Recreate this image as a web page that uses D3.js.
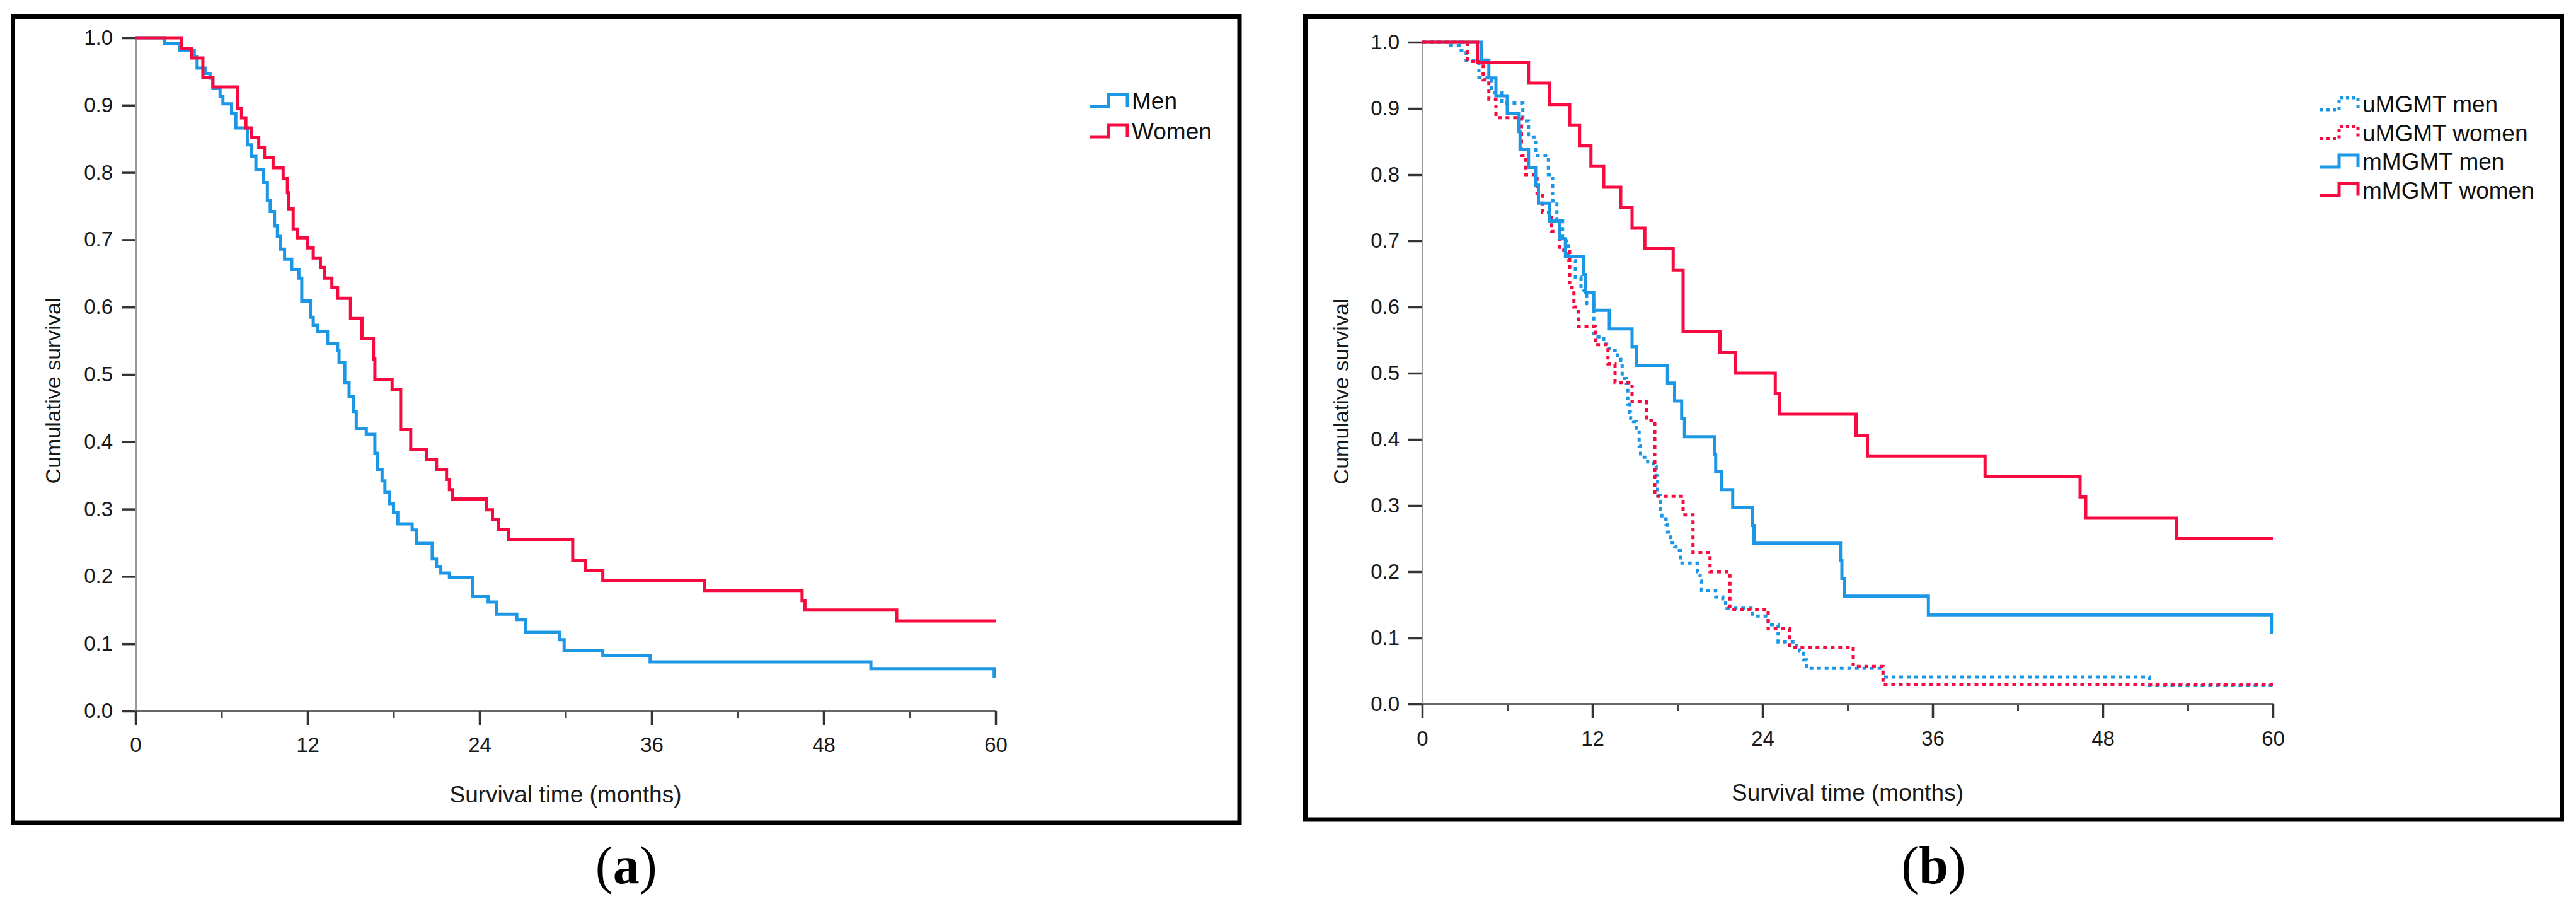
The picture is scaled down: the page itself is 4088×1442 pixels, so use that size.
<!DOCTYPE html>
<html>
<head>
<meta charset="utf-8">
<script src="https://cdn.jsdelivr.net/npm/d3@7"></script>
<style>
  html, body { margin: 0; padding: 0; background: #fff; }
  svg { display: block; }
  .tick text { font-family: "Liberation Sans", Arial, sans-serif; fill: #1a1a1a; }
</style>
</head>
<body>
<svg id="chart" width="4088" height="1442"></svg>
<script>
// ---- data ----
// panel (a): Kaplan-Meier by sex
const menT   = [0, 2.0, 3.1, 4.1, 4.3, 4.9, 5.2, 5.4, 5.9, 6.1, 6.7, 7.0, 7.8, 8.1, 8.4, 8.9, 9.2, 9.4, 9.7, 9.9, 10.1, 10.4, 10.9, 11.4, 11.6, 12.2, 12.4, 12.7, 13.4, 14.1, 14.2, 14.6, 14.9, 15.2, 15.4, 16.1, 16.7, 16.9, 17.2, 17.4, 17.7, 18.0, 18.3, 19.3, 19.6, 20.7, 21.0, 21.3, 21.9, 23.5, 24.6, 25.2, 26.6, 27.2, 29.6, 29.9, 32.6, 35.9, 51.3, 59.9, 60];
const menS   = [1, 0.992, 0.981, 0.972, 0.955, 0.947, 0.940, 0.925, 0.913, 0.902, 0.888, 0.866, 0.841, 0.824, 0.804, 0.785, 0.759, 0.742, 0.721, 0.705, 0.686, 0.671, 0.656, 0.643, 0.609, 0.585, 0.573, 0.564, 0.546, 0.536, 0.518, 0.488, 0.467, 0.445, 0.420, 0.411, 0.383, 0.359, 0.342, 0.325, 0.308, 0.295, 0.278, 0.269, 0.249, 0.226, 0.215, 0.205, 0.198, 0.170, 0.162, 0.144, 0.136, 0.117, 0.106, 0.090, 0.082, 0.073, 0.063, 0.052, 0.052];
const womenT = [0, 3.2, 3.9, 4.7, 5.4, 7.1, 7.4, 7.7, 8.1, 8.6, 9.0, 9.6, 10.3, 10.6, 10.7, 11.0, 11.3, 12.0, 12.4, 12.9, 13.2, 13.7, 14.1, 15.0, 15.8, 16.6, 16.7, 17.9, 18.5, 19.2, 20.3, 21.0, 21.7, 21.9, 22.1, 24.5, 24.9, 25.3, 26.0, 30.5, 31.4, 32.6, 39.7, 46.5, 46.7, 53.1, 60];
const womenS = [1, 0.984, 0.970, 0.941, 0.927, 0.895, 0.881, 0.866, 0.852, 0.837, 0.822, 0.807, 0.791, 0.770, 0.746, 0.716, 0.703, 0.688, 0.673, 0.659, 0.643, 0.629, 0.613, 0.583, 0.553, 0.523, 0.493, 0.478, 0.418, 0.389, 0.374, 0.359, 0.344, 0.329, 0.315, 0.299, 0.285, 0.270, 0.255, 0.224, 0.209, 0.194, 0.179, 0.164, 0.150, 0.134, 0.134];

// panel (b): by MGMT status and sex
const uMenT   = [0, 1.9, 2.6, 3.1, 4.0, 4.9, 5.6, 7.1, 7.5, 8.0, 8.9, 9.2, 9.5, 9.9, 10.3, 10.8, 11.2, 11.6, 12.1, 12.4, 12.8, 13.2, 13.8, 14.0, 14.1, 14.4, 14.5, 14.6, 14.7, 14.9, 15.1, 15.3, 15.4, 15.9, 16.3, 16.5, 16.6, 16.8, 16.9, 17.2, 17.3, 17.5, 17.8, 17.9, 18.2, 19.4, 19.6, 19.7, 20.7, 21.2, 21.4, 21.5, 23.3, 24.4, 25.1, 26.4, 26.6, 26.9, 27.1, 32.5, 51.3, 60];
const uMenS   = [1, 0.995, 0.988, 0.972, 0.947, 0.924, 0.908, 0.881, 0.857, 0.829, 0.800, 0.760, 0.730, 0.700, 0.670, 0.645, 0.625, 0.605, 0.560, 0.555, 0.544, 0.534, 0.521, 0.514, 0.492, 0.485, 0.453, 0.441, 0.431, 0.427, 0.417, 0.390, 0.373, 0.366, 0.359, 0.345, 0.315, 0.291, 0.280, 0.271, 0.260, 0.244, 0.238, 0.232, 0.213, 0.200, 0.186, 0.172, 0.162, 0.159, 0.152, 0.145, 0.133, 0.120, 0.094, 0.087, 0.080, 0.067, 0.054, 0.041, 0.028, 0.028];
const uWomenT = [0, 3.2, 4.3, 4.7, 5.2, 7.0, 7.3, 8.1, 8.5, 9.1, 9.7, 10.4, 10.7, 11.0, 12.2, 13.1, 13.6, 14.8, 15.8, 16.4, 18.4, 19.1, 20.3, 21.7, 24.4, 25.9, 30.4, 32.5, 60];
const uWomenS = [1, 0.971, 0.943, 0.914, 0.886, 0.829, 0.800, 0.771, 0.743, 0.714, 0.686, 0.629, 0.600, 0.571, 0.543, 0.514, 0.486, 0.457, 0.429, 0.314, 0.286, 0.229, 0.200, 0.143, 0.114, 0.086, 0.057, 0.029, 0.029];
const mMenT   = [0, 4.2, 4.7, 5.2, 6.0, 6.8, 6.9, 7.5, 8.0, 8.2, 9.0, 9.7, 10.1, 11.4, 11.5, 12.1, 13.2, 14.8, 15.1, 17.3, 17.8, 18.3, 18.5, 20.6, 20.7, 21.1, 21.9, 23.3, 23.4, 29.5, 29.6, 29.8, 35.7, 59.9, 60];
const mMenS   = [1, 0.973, 0.946, 0.919, 0.892, 0.865, 0.838, 0.811, 0.784, 0.757, 0.730, 0.703, 0.676, 0.649, 0.622, 0.595, 0.567, 0.540, 0.512, 0.485, 0.458, 0.431, 0.404, 0.377, 0.351, 0.324, 0.297, 0.270, 0.243, 0.217, 0.190, 0.163, 0.135, 0.109, 0.109];
const mWomenT = [0, 3.9, 7.5, 9.0, 10.4, 11.1, 11.9, 12.8, 14.0, 14.8, 15.7, 17.7, 18.4, 21.0, 22.1, 24.9, 25.2, 30.6, 31.4, 39.7, 46.4, 46.8, 53.2, 60];
const mWomenS = [1, 0.969, 0.938, 0.906, 0.875, 0.844, 0.813, 0.781, 0.750, 0.719, 0.688, 0.656, 0.563, 0.531, 0.500, 0.469, 0.438, 0.406, 0.375, 0.344, 0.313, 0.281, 0.250, 0.250];

const xMajorTicks = [0, 12, 24, 36, 48, 60];
const xMinorTicks = [6, 18, 30, 42, 54];
const yTicks = [0, 0.1, 0.2, 0.3, 0.4, 0.5, 0.6, 0.7, 0.8, 0.9, 1.0];
const xTitle = "Survival time (months)";
const yTitle = "Cumulative survival";

const BLUE = "#1b97e6", RED = "#f70a3f";

function zip(t, s) { return t.map((d, i) => ({ t: d, s: s[i] })); }

const panels = [
  {
    label: "a",
    box: { x: 20.5, y: 26.5, x2: 1967, y2: 1305 },
    plot: { x0: 215, x1: 1580, y0: 1128, y1: 60 },
    xLabelY: 1193, xTitleY: 1273, yTitleX: 84, yTitleY: 620,
    legend: { x: 1729, y: 173, dy: 48, textX: 1796 },
    series: [
      { name: "Men",   data: zip(menT, menS),     color: BLUE, dash: null },
      { name: "Women", data: zip(womenT, womenS), color: RED,  dash: null }
    ]
  },
  {
    label: "b",
    box: { x: 2071.5, y: 26.5, x2: 4065.5, y2: 1300 },
    plot: { x0: 2257, x1: 3607, y0: 1117, y1: 67 },
    xLabelY: 1183, xTitleY: 1270, yTitleX: 2128, yTitleY: 621,
    legend: { x: 3682, y: 178, dy: 45.5, textX: 3749 },
    series: [
      { name: "uMGMT men",   data: zip(uMenT, uMenS),     color: BLUE, dash: "6 6" },
      { name: "uMGMT women", data: zip(uWomenT, uWomenS), color: RED,  dash: "6 6" },
      { name: "mMGMT men",   data: zip(mMenT, mMenS),     color: BLUE, dash: null },
      { name: "mMGMT women", data: zip(mWomenT, mWomenS), color: RED,  dash: null }
    ]
  }
];

const svg = d3.select("#chart");

panels.forEach(function (p) {
  const g = svg.append("g");

  // frame
  g.append("rect")
    .attr("x", p.box.x).attr("y", p.box.y)
    .attr("width", p.box.x2 - p.box.x).attr("height", p.box.y2 - p.box.y)
    .attr("fill", "none").attr("stroke", "#000").attr("stroke-width", 7);

  const x = d3.scaleLinear().domain([0, 60]).range([p.plot.x0, p.plot.x1]);
  const y = d3.scaleLinear().domain([0, 1]).range([p.plot.y0, p.plot.y1]);

  // y axis
  const yAxis = g.append("g")
    .attr("transform", "translate(" + p.plot.x0 + ",0)")
    .call(d3.axisLeft(y).tickValues(yTicks).tickFormat(d3.format(".1f"))
      .tickSize(22).tickSizeOuter(0).tickPadding(14));
  yAxis.select(".domain").attr("stroke", "#999").attr("stroke-width", 3);
  yAxis.selectAll(".tick line").attr("stroke", "#333").attr("stroke-width", 3.5);
  yAxis.selectAll(".tick text").style("font-size", "33px");

  // x axis, minor then major
  const xMinor = g.append("g")
    .attr("transform", "translate(0," + p.plot.y0 + ")")
    .call(d3.axisBottom(x).tickValues(xMinorTicks).tickSize(11).tickSizeOuter(0).tickFormat(""));
  xMinor.select(".domain").remove();
  xMinor.selectAll(".tick line").attr("stroke", "#444").attr("stroke-width", 3);

  const xAxis = g.append("g")
    .attr("transform", "translate(0," + p.plot.y0 + ")")
    .call(d3.axisBottom(x).tickValues(xMajorTicks).tickSize(22).tickSizeOuter(0).tickPadding(14));
  xAxis.select(".domain").attr("stroke", "#666").attr("stroke-width", 3);
  xAxis.selectAll(".tick line").attr("stroke", "#333").attr("stroke-width", 3.5);
  xAxis.selectAll(".tick text").style("font-size", "33px")
    .attr("dy", null).attr("y", p.xLabelY - p.plot.y0);

  // axis titles
  g.append("text")
    .attr("x", (p.plot.x0 + p.plot.x1) / 2).attr("y", p.xTitleY)
    .attr("text-anchor", "middle")
    .style("font-family", "'Liberation Sans', Arial, sans-serif")
    .style("font-size", "37px").attr("fill", "#1a1a1a")
    .text(xTitle);
  g.append("text")
    .attr("transform", "translate(" + p.yTitleX + "," + p.yTitleY + ") rotate(-90)")
    .attr("text-anchor", "middle").attr("dominant-baseline", "central")
    .style("font-family", "'Liberation Sans', Arial, sans-serif")
    .style("font-size", "34px").attr("fill", "#1a1a1a")
    .text(yTitle);

  // survival curves
  const line = d3.line()
    .x(d => x(d.t)).y(d => y(d.s))
    .curve(d3.curveStepAfter);

  p.series.forEach(function (s) {
    g.append("path")
      .datum(s.data)
      .attr("d", line)
      .attr("fill", "none")
      .attr("stroke", s.color)
      .attr("stroke-width", 5)
      .attr("stroke-dasharray", s.dash)
      .attr("stroke-linejoin", "miter");
  });

  // legend
  const leg = g.append("g");
  p.series.forEach(function (s, i) {
    const by = p.legend.y + i * p.legend.dy;
    leg.append("path")
      .attr("d", "M" + p.legend.x + "," + (by - 4) + "h30v-19h30v19")
      .attr("fill", "none").attr("stroke", s.color).attr("stroke-width", 5)
      .attr("stroke-dasharray", s.dash ? "5 5" : null);
    leg.append("text")
      .attr("x", p.legend.textX).attr("y", by)
      .style("font-family", "'Liberation Sans', Arial, sans-serif")
      .style("font-size", "37px").attr("fill", "#111")
      .text(s.name);
  });

  // panel letter
  const lt = g.append("text")
    .attr("x", (p.box.x + p.box.x2) / 2).attr("y", 1401)
    .attr("text-anchor", "middle")
    .style("font-family", "'Liberation Serif', 'Times New Roman', serif")
    .style("font-size", "84px").attr("fill", "#000");
  lt.append("tspan").text("(");
  lt.append("tspan").style("font-weight", "bold").text(p.label);
  lt.append("tspan").text(")");
});
</script>
</body>
</html>
